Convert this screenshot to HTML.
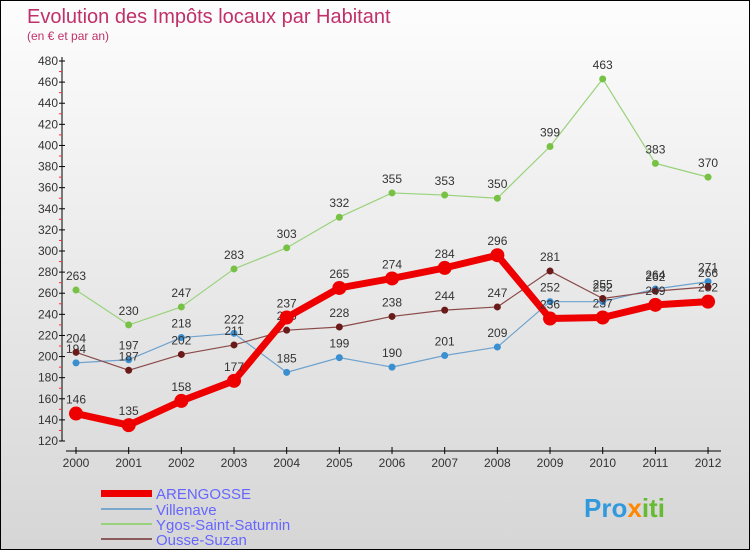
<!DOCTYPE html>
<html><head><meta charset="utf-8"><style>
body{margin:0;width:750px;height:550px;overflow:hidden}
#c{position:absolute;left:0;top:0;width:748px;height:548px;border:1px solid #000;background:linear-gradient(#fdfdfd,#d6d6d6)}
svg text{font-family:"Liberation Sans",sans-serif}
</style></head><body>
<div id="c">
<svg id="s" width="750" height="550">
<text x="26" y="22" font-size="20" fill="#c0306a">Evolution des Impôts locaux par Habitant</text>
<text x="26" y="39" font-size="12" fill="#c0306a">(en € et par an)</text>
<g id="ax"></g><g id="pl"></g>
<g>
<rect x="100" y="489" width="51" height="7" fill="#e00"/>
<text x="155" y="498" font-size="15" fill="#6666ff">ARENGOSSE</text>
<rect x="100" y="507" width="51" height="2" fill="#7aa8cc"/>
<text x="155" y="514" font-size="15" fill="#6666ff">Villenave</text>
<rect x="100" y="522" width="51" height="2" fill="#99d27a"/>
<text x="155" y="529" font-size="15" fill="#6666ff">Ygos-Saint-Saturnin</text>
<rect x="100" y="537" width="51" height="2" fill="#8b5a5a"/>
<text x="155" y="544" font-size="15" fill="#6666ff">Ousse-Suzan</text>
</g>
<text x="583" y="516" font-size="26" font-weight="bold" fill="#3399dd">Pro<tspan fill="#ff8800">x</tspan><tspan fill="#66bb33">iti</tspan></text>
</svg></div>
<script>
const years=["2000","2001","2002","2003","2004","2005","2006","2007","2008","2009","2010","2011","2012"];
const arengosse=[146,135,158,177,237,265,274,284,296,236,237,249,252];
const villenave=[194,197,218,222,185,199,190,201,209,252,252,264,271];
const ygos=[263,230,247,283,303,332,355,353,350,399,463,383,370];
const ousse=[204,187,202,211,225,228,238,244,247,281,255,262,266];
const yTicks=[120,140,160,180,200,220,240,260,280,300,320,340,360,380,400,420,440,460,480];
const NS="http://www.w3.org/2000/svg";
const X=i=>75+i*52.67, Y=v=>440-(v-120)*380/360;
function mk(t,a,p){const e=document.createElementNS(NS,t);for(const k in a)e.setAttribute(k,a[k]);p.appendChild(e);return e;}
const ax=document.getElementById('ax'),pl=document.getElementById('pl');
let l=mk('line',{x1:61,y1:56,x2:61,y2:440,stroke:'#000'},ax);


l=mk('line',{x1:65,y1:450,x2:720,y2:450,stroke:'#000'},ax);


yTicks.forEach(v=>{mk('line',{x1:58,y1:Y(v),x2:64,y2:Y(v),stroke:'#000'},ax);
 if(v<480)mk('line',{x1:58,y1:Y(v+10),x2:61,y2:Y(v+10),stroke:'#e33'},ax);
 const t=mk('text',{x:57,y:Y(v)+4,'font-size':12,'text-anchor':'end',fill:'#333'},ax);t.textContent=v;
 
 });
years.forEach((y,i)=>{mk('line',{x1:X(i),y1:446,x2:X(i),y2:453,stroke:'#000'},ax);
 const t=mk('text',{x:X(i),y:466,'font-size':12,'text-anchor':'middle',fill:'#333'},ax);t.textContent=y;
 
 });
function series(d,col,dot,w,r,name){
 const g=mk('g',{},pl);
 
 
 mk('polyline',{points:d.map((v,i)=>X(i)+','+Y(v)).join(' '),fill:'none',stroke:col,'stroke-width':w,'stroke-linejoin':'round'},g);
 d.forEach((v,i)=>{const c=mk('circle',{cx:X(i),cy:Y(v),r:r,fill:dot},g);
  
  
  const t=mk('text',{x:X(i),y:Y(v)-10,'font-size':12,'text-anchor':'middle',fill:'#333'},g);t.textContent=v;
  
  });
}
series(ygos,'#99d27a','#77c244',1.2,3.5,'ygos');
series(villenave,'#6fa3cf','#3a8fd0',1.2,3.5,'villenave');
series(ousse,'#8b4a4a','#6b1a1a',1.2,3.5,'ousse');
series(arengosse,'#ee0000','#ee0000',7,7,'arengosse');
</script></body></html>
